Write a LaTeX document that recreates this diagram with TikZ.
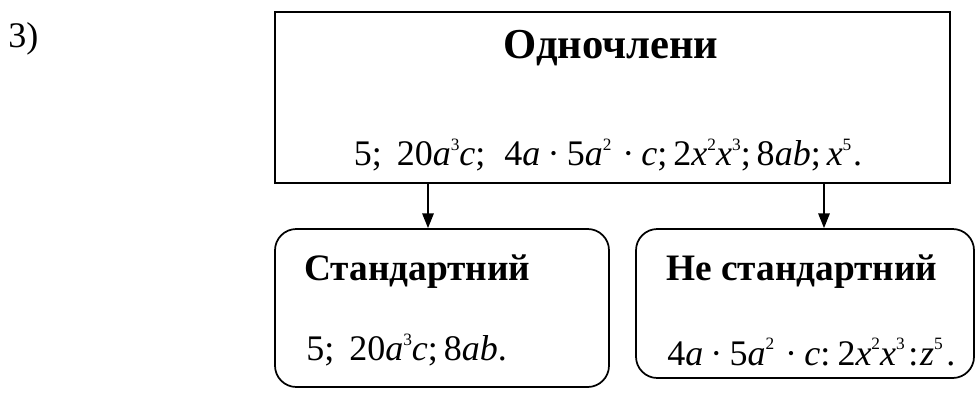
\documentclass[tikz,border=0pt]{standalone}
\usepackage{fontspec}
\setmainfont{Liberation Serif}
\usetikzlibrary{arrows.meta}
\newcommand\vv[1]{\textit{#1}}
\newcommand\pw[1]{\raisebox{0.42em}{\fontsize{13pt}{13pt}\selectfont #1}}
\newcommand\cd{\hspace{0.2em}·\hspace{0.2em}}
\tikzset{
  frame/.style={draw, line width=1.3pt, inner sep=0pt},
  rframe/.style={frame, rounded corners=16pt},
  head/.style={font=\fontsize{28pt}{28pt}\selectfont\bfseries, inner sep=0pt},
  formula/.style={font=\fontsize{27pt}{27pt}\selectfont, inner sep=0pt},
  arr/.style={line width=1.3pt, -{Triangle[length=11pt,width=8.5pt]}}
}
\begin{document}
\begin{tikzpicture}[x=0.75pt,y=-0.75pt]
\useasboundingbox (0,0) rectangle (980,394);
\node[formula, anchor=west] (num) at (8,39) {3)};
\node[frame, minimum width=506.25pt, minimum height=128.25pt] (top) at (612.5,97.5) {};
\node[rframe, minimum width=250.5pt, minimum height=118.5pt] (lb) at (442,308) {};
\node[rframe, minimum width=253.5pt, minimum height=111.75pt] (rb) at (805,303.5) {};
\node[head, font=\fontsize{32pt}{32pt}\selectfont\bfseries] (t1) at (611,48) {Одночлени};
\node[formula] (f1) at (608,155) {5;\, 20\vv{a}\pw{3}\vv{c}; \;4\vv{a}\cd5\vv{a}\pw{2}\hspace{0.1em}\cd\vv{c};\,2\vv{x}\pw{2}\vv{x}\pw{3};\,8\vv{ab};\,\vv{x}\pw{5}\hspace{0.05em}.};
\node[head, anchor=west] (t2) at (304,272) {Стандартний};
\node[formula, anchor=west] (f2) at (306,350) {5; \,20\vv{a}\pw{3}\vv{c};\,8\vv{ab}.};
\node[head, anchor=west] (t3) at (666,272) {Не стандартний};
\node[formula, anchor=west] (f3) at (667,352) {4\vv{a}\cd5\vv{a}\pw{2}\hspace{0.1em}\cd\vv{c}:\hspace{0.2em}2\vv{x}\pw{2}\vv{x}\pw{3}\hspace{0.1em}:\hspace{0.05em}\vv{z}\pw{5}\hspace{0.1em}.};
\coordinate (c1) at (428,0);
\coordinate (c2) at (824,0);
\draw[arr] (top.south -| c1) -- (lb.north -| c1);
\draw[arr] (top.south -| c2) -- (rb.north -| c2);
\end{tikzpicture}
\end{document}
